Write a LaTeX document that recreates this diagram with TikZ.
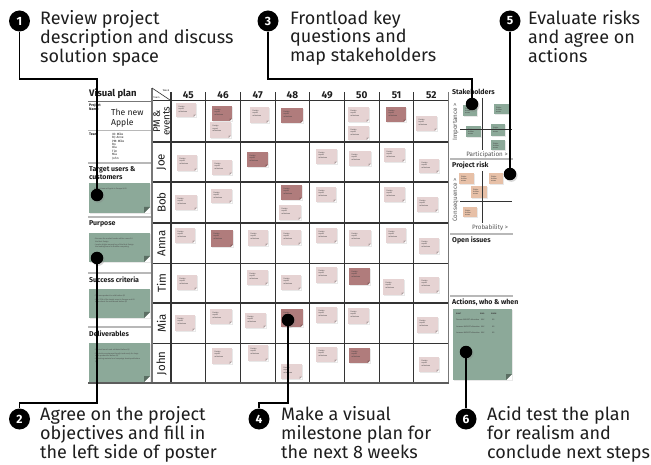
\documentclass[tikz,border=0pt]{standalone}
\usepackage{fontspec}
\setmainfont{Fira Sans}
\usetikzlibrary{shadows}

\definecolor{stLight}{HTML}{E6D3D3}
\definecolor{stDark}{HTML}{B07C7C}
\definecolor{stGreen}{HTML}{8CA999}
\definecolor{stPeach}{HTML}{E7C0A7}
\definecolor{gridline}{HTML}{333333}
\definecolor{frameline}{HTML}{777777}
\definecolor{sepline}{HTML}{B8B8B8}
\definecolor{inkdark}{HTML}{1E1E1E}
\definecolor{inkgray}{HTML}{555555}

\tikzset{
  badge/.style={circle, fill=black, text=white, inner sep=0pt, minimum size=21pt,
    font=\fontsize{12}{12}\selectfont\bfseries},
  dot/.style={circle, fill=black, inner sep=0pt, minimum size=12.5pt,
    drop shadow={opacity=0.3, shadow xshift=1.3pt, shadow yshift=-1.6pt}},
  lead/.style={line width=1.1pt, black},
  stepnote/.style={anchor=north west, inner sep=0pt, align=left, text=inkdark,
    font=\fontsize{18}{18.8}\selectfont},
  gridln/.style={line width=1.1pt, gridline},
  frameln/.style={line width=1.4pt, frameline},
  sepln/.style={line width=1.6pt, sepline},
  weeknum/.style={inner sep=0pt, font=\fontsize{10}{10}\selectfont\bfseries, text=inkdark},
  rowname/.style={rotate=90, inner sep=0pt, align=center, text=inkdark,
    font=\fontsize{11.5}{11}\selectfont},
  sechead/.style={anchor=north west, inner sep=0pt, align=left, text=inkdark,
    font=\fontsize{7}{8}\selectfont\bfseries},
  axislbl/.style={inner sep=0pt, text=inkgray, font=\fontsize{6.3}{7}\selectfont},
  tinytxt/.style={anchor=north west, inner sep=0pt, align=left, text=black!75,
    font=\fontsize{1.9}{2.4}\selectfont},
  smalltxt/.style={anchor=north west, inner sep=0pt, align=left, text=inkdark,
    font=\fontsize{3.4}{3.6}\selectfont},
  noteshadow/.style={drop shadow={opacity=0.18, shadow xshift=0.7pt, shadow yshift=-0.9pt}},
}

% sticky note: x1 y1 x2 y2 colour
\newcommand\pnote[5]{%
  \fill[#5, noteshadow] (#1,#2) rectangle (#3,#4);
  \fill[white] (#3-2.4,#4) -- (#3,#4) -- (#3,#4-2.4) -- cycle;
  \fill[#5!75!black] (#3-2.4,#4) -- (#3,#4-2.4) -- (#3-2.4,#4-2.4) -- cycle;
  \node[tinytxt] at (#1+2.5,#2+2.6) {Design\\report\\milestone};
}
% small note in the matrices
\newcommand\mnote[5]{%
  \fill[#5, noteshadow] (#1,#2) rectangle (#3,#4);
  \node[tinytxt] at (#1+2,#2+2.5) {Stake-\\holder\\name};
}
% large green note with folded corner
\newcommand\gnote[4]{%
  \fill[stGreen, noteshadow] (#1,#2) rectangle (#3,#4);
  \fill[white] (#3-6,#4) -- (#3,#4) -- (#3,#4-6) -- cycle;
  \fill[stGreen!65!black] (#3-6,#4) -- (#3,#4-6) -- (#3-6,#4-6) -- cycle;
}

\begin{document}
\begin{tikzpicture}[x=1pt, y=-1pt]
\useasboundingbox (0,0) rectangle (651,465);
\fill[white] (0,0) rectangle (651,465);

% ---------------- left column ----------------
\node[anchor=base west, inner sep=0pt, text=inkdark, font=\fontsize{9.5}{10}\selectfont\bfseries]
  (title) at (89,97) {Visual plan};
\draw[line width=1.2pt, frameline] (88,101.7) -- (152,101.7);
\node[anchor=north west, inner sep=0pt, align=left, text=inkdark, font=\fontsize{3.6}{3.9}\selectfont\bfseries]
  (pnlbl) at (89,103.5) {Project\\Name};
\node[anchor=north west, inner sep=0pt, align=left, text=inkdark, font=\fontsize{8.6}{10.5}\selectfont]
  (pname) at (111,108.5) {The new\\Apple};
\draw[sepln] (88,130.7) -- (152,130.7);
\node[anchor=north west, inner sep=0pt, text=inkdark, font=\fontsize{3.6}{3.9}\selectfont\bfseries]
  (teamlbl) at (89,132.5) {Team};
\node[smalltxt, font=\fontsize{3.1}{3.45}\selectfont] (teamlist) at (112,132.5)
  {IO: Mike\\BJ: Anne\\PM: Mike\\Bo\\Ola\\Tim\\Mia\\John};
\draw[sepln] (88,163) -- (152,163);
\node[sechead] (target) at (89,166) {Target users \&\\customers};
\gnote{89}{183}{150}{213}
\node[tinytxt, text=black!70] (targettxt) at (94,188) {Product team at Apple in Europe \& US};
\draw[sepln] (88,217) -- (152,217);
\node[sechead] (purpose) at (89,220.5) {Purpose};
\gnote{89}{233}{150}{262}
\node[tinytxt, text=black!70] (purposetxt) at (94,238)
  {- Become the market leader within a new 2.0\\\ \ the Best Design\\[1pt]
   - Involve higher among key of the Best Design\\\ \ the leading brand in mobile computing};
\draw[sepln] (88,273) -- (152,273);
\node[sechead] (success) at (89,276.5) {Success criteria};
\gnote{89}{289}{150}{318}
\node[tinytxt, text=black!70] (successtxt) at (94,295)
  {- The new product in sold before Q2\\[1pt]
   - Min. 25\% of the target users in Europe and US\\\ \ know about the new brand before Q3};
\draw[sepln] (88,327) -- (152,327);
\node[sechead] (deliv) at (89,331) {Deliverables};
\gnote{89}{343}{150}{382}
\node[tinytxt, text=black!70] (delivtxt) at (94,349)
  {- Product launch and validated before Q2\\[1pt]
   - Production equipment bought and ready for large\\\ \ scale production before Q3\\[1pt]
   - Marketing material and campaign developed before\\\ \ Q3};

% ---------------- milestone grid ----------------
% row: PM & events
\pnote{176}{103}{196}{117}{stLight}
\pnote{212}{106}{232}{121}{stDark}
\pnote{210}{122.5}{231}{138}{stLight}
\pnote{250}{107}{269}{123}{stLight}
\pnote{281}{108}{303}{123}{stDark}
\pnote{348}{107}{369}{122}{stLight}
\pnote{348}{126}{369}{140}{stLight}
\pnote{386}{107}{406}{122}{stDark}
\pnote{416}{116}{437}{131}{stLight}
% row: Joe
\pnote{177}{155}{197}{171}{stLight}
\pnote{212}{160}{232}{175}{stLight}
\pnote{247}{152}{268}{167}{stDark}
\pnote{316}{149}{337}{164}{stLight}
\pnote{349}{151}{371}{166}{stLight}
\pnote{384}{148}{405}{162}{stLight}
\pnote{419}{159}{439}{173}{stLight}
% row: Bob
\pnote{175}{195}{197}{210}{stLight}
\pnote{211}{189}{232}{203}{stLight}
\pnote{281}{185}{302}{200}{stDark}
\pnote{279}{205}{301}{220}{stLight}
\pnote{316}{187}{336}{202}{stLight}
\pnote{384}{187}{405}{202}{stLight}
\pnote{417}{197}{438}{212}{stLight}
% row: Anna
\pnote{175}{228}{195}{243}{stLight}
\pnote{211}{230}{233}{247}{stDark}
\pnote{248}{230}{268}{246}{stLight}
\pnote{281}{230}{301}{245}{stLight}
\pnote{316}{228}{337}{243}{stLight}
\pnote{349}{230}{371}{246}{stLight}
\pnote{386}{228}{406}{243}{stLight}
\pnote{419}{238}{439}{254}{stLight}
% row: Tim
\pnote{177}{275}{197}{290}{stLight}
\pnote{247}{270}{268}{285}{stLight}
\pnote{281}{275}{301}{290}{stLight}
\pnote{316}{267}{337}{283}{stLight}
\pnote{349}{268}{370}{285}{stDark}
\pnote{383}{279}{404}{295}{stLight}
\pnote{419}{277}{439}{293}{stLight}
% row: Mia
\pnote{175}{315}{195}{331}{stLight}
\pnote{210}{309}{232}{324}{stLight}
\pnote{245}{313}{266}{328}{stLight}
\pnote{281}{309}{303}{327}{stDark}
\pnote{316}{307}{337}{323}{stLight}
\pnote{348}{308}{369}{324}{stLight}
\pnote{417}{317}{438}{333}{stLight}
% row: John
\pnote{212}{348}{232}{364}{stLight}
\pnote{248}{345}{268}{361}{stLight}
\pnote{281}{364}{302}{379}{stLight}
\pnote{316}{347}{337}{362}{stLight}
\pnote{349}{348}{370}{363}{stDark}
\pnote{419}{357}{439}{372}{stLight}

% grid lines
\foreach \gx in {171,205.7,240.4,275.1,309.8,344.5,379.2,413.9}
  \draw[gridln] (\gx,92.5) -- (\gx,383);
\foreach \gy in {142,182,223,263.5,303,343.5}
  \draw[gridln] (152,\gy) -- (448.6,\gy);
\draw[gridln] (152,100.7) -- (448.6,100.7);
\draw[frameln] (152,88) -- (152,383);
\draw[frameln] (448.6,92.5) -- (448.6,383);
\draw[line width=1.3pt, gridline!80] (88,383) -- (448.6,383);
\draw[line width=0.6pt, gridline] (152,88) -- (171,100.7);
\node[inner sep=0pt, font=\fontsize{2.6}{3}\selectfont, text=inkdark] (weeklbl) at (166,90.5) {Week};
\node[inner sep=0pt, font=\fontsize{2.6}{3}\selectfont, text=inkdark] (teamhd) at (156.5,98) {Team};

% week numbers
\foreach \wk [count=\i from 0] in {45,46,47,48,49,50,51,52}
  \node[weeknum] (wk\wk) at (188.35+34.7*\i,95.5) {\wk};

% team members
\node[rowname, font=\fontsize{9.8}{9.3}\selectfont] (rPM) at (161.5,121.3) {PM \&\\events};
\node[rowname] (rJoe) at (161.5,162) {Joe};
\node[rowname] (rBob) at (161.5,202.5) {Bob};
\node[rowname] (rAnna) at (161.5,243.2) {Anna};
\node[rowname] (rTim) at (161.5,283.2) {Tim};
\node[rowname] (rMia) at (161.5,323.2) {Mia};
\node[rowname] (rJohn) at (161.5,363.2) {John};

% ---------------- right column ----------------
\node[sechead] (stake) at (452,88.5) {Stakeholders};
\mnote{463}{105}{477}{116}{stGreen}
\mnote{494}{104}{509}{114}{stGreen}
\mnote{466}{126}{481}{137}{stGreen}
\mnote{491}{124}{505}{136}{stGreen}
\mnote{491}{140}{505}{150}{stGreen}
\draw[gridln, line width=0.9pt] (482,98) -- (482,150);
\draw[gridln, line width=0.9pt] (460,129) -- (512,129);
\node[axislbl, rotate=90] (imp) at (455.5,122) {Importance >};
\node[axislbl] (part) at (487,155) {Participation >};
\draw[sepln, line width=1.1pt] (450,159) -- (513,159);

\node[sechead] (risk) at (452,161.5) {Project risk};
\mnote{459}{173}{474}{184}{stPeach}
\mnote{489}{173}{503}{184}{stPeach}
\mnote{471}{186}{487}{198}{stPeach}
\mnote{463}{207}{477}{217}{stPeach}
\draw[gridln, line width=0.9pt] (482,171) -- (482,223);
\draw[gridln, line width=0.9pt] (460,201) -- (512,201);
\node[axislbl, rotate=90] (cons) at (455.5,200) {Consequence >};
\node[axislbl] (prob) at (490,228) {Probability >};
\draw[sepln, line width=1.1pt] (450,234) -- (513,234);

\node[sechead] (open) at (452,236.5) {Open issues};
\draw[sepln, line width=1.1pt] (450,296) -- (513,296);

\node[sechead] (actions) at (452,299) {Actions, who \& when};
\gnote{453}{309}{512}{380}
\node[tinytxt, font=\fontsize{1.9}{2.2}\selectfont\bfseries] (acth1) at (456,313) {WHAT};
\node[tinytxt, font=\fontsize{1.9}{2.2}\selectfont\bfseries] (acth2) at (480,313) {WHO};
\node[tinytxt, font=\fontsize{1.9}{2.2}\selectfont\bfseries] (acth3) at (491,313) {WHEN};
\foreach \ry/\wt in {319/Finance BUDGET allocation, 325.5/Increase BUDGET allocation, 332/Increase BUDGET allocation}{
  \node[tinytxt] at (456,\ry) {\wt};
  \node[tinytxt] at (481,\ry) {XXX};
  \node[tinytxt] at (492,\ry) {W1};
}

% ---------------- step annotations ----------------
\node[badge] (b1) at (19.5,21) {1};
\node[badge] (b3) at (268,21) {3};
\node[badge] (b5) at (510,21) {5};
\node[badge] (b2) at (19.5,419) {2};
\node[badge] (b4) at (259,419) {4};
\node[badge] (b6) at (466,419) {6};

\node[stepnote] (t1) at (40,10.5) {Review project\\description and discuss\\solution space};
\node[stepnote] (t3) at (290,10.5) {Frontload key\\questions and\\map stakeholders};
\node[stepnote] (t5) at (528,10.5) {Evaluate risks\\and agree on\\actions};
\node[stepnote] (t2) at (40,406.5) {Agree on the project\\objectives and fill in\\the left side of poster};
\node[stepnote] (t4) at (281,406.5) {Make a visual\\milestone plan for\\the next 8 weeks};
\node[stepnote] (t6) at (487,406.5) {Acid test the plan\\for realism and\\conclude next steps};

% markers on the poster
\node[dot] (d1) at (97,195) {};
\node[dot] (d2) at (97,258) {};
\node[dot] (d3) at (472,104) {};
\node[dot] (d4) at (288,320) {};
\node[dot] (d5) at (510,174) {};
\node[dot] (d6) at (466,352) {};

\coordinate (k1) at (97,79);
\coordinate (k3) at (472,79);
\coordinate (k2) at (19.5,403);
\coordinate (k4) at (259,403);

\draw[lead] (b1) |- (k1) -- (d1);
\draw[lead] (b3) |- (k3) -- (d3);
\draw[lead] (b5) -- (d5);
\draw[lead] (d2) |- (k2) -- (b2);
\draw[lead] (d4) |- (k4) -- (b4);
\draw[lead] (d6) -- (b6);
\end{tikzpicture}
\end{document}
